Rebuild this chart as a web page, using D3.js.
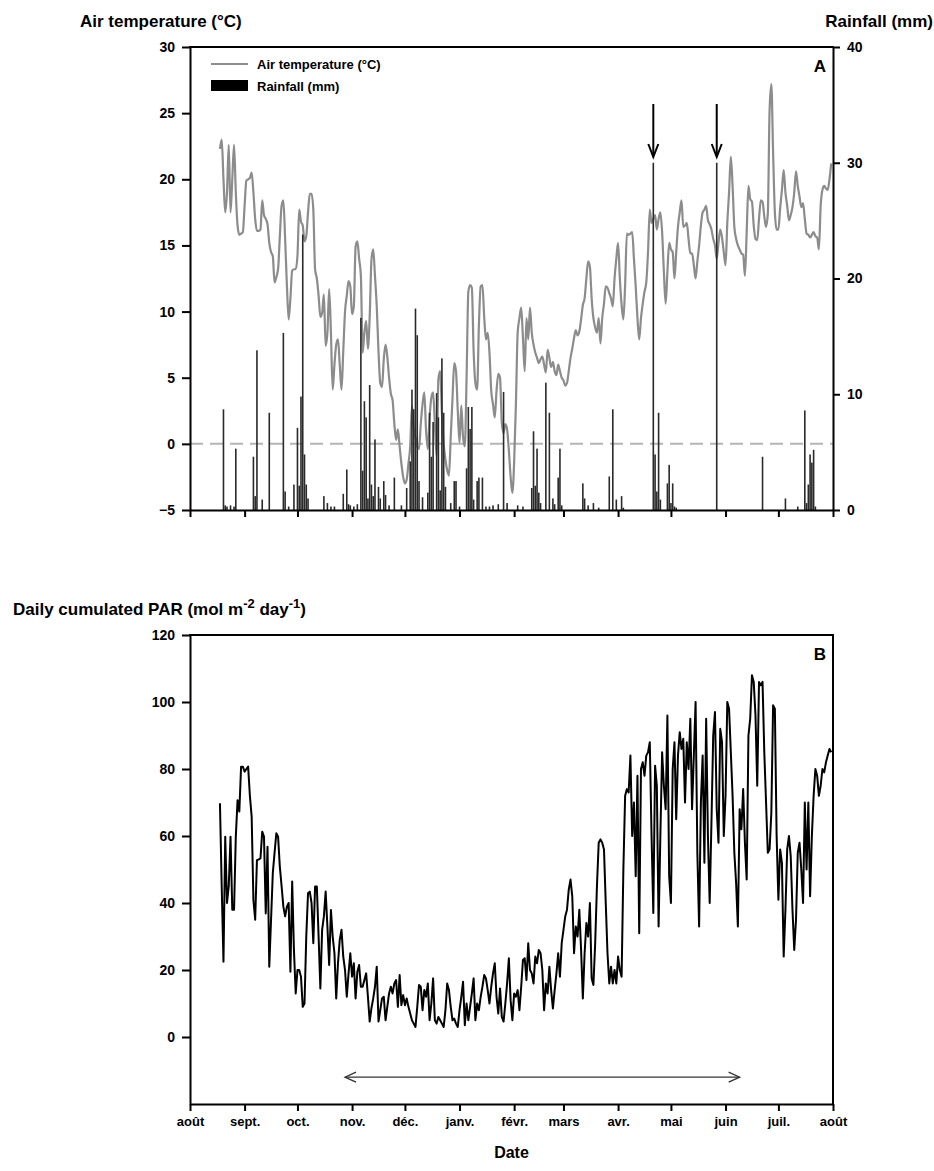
<!DOCTYPE html>
<html>
<head>
<meta charset="utf-8">
<script src="https://cdn.jsdelivr.net/npm/d3@7"></script>
<style>
  body { margin: 0; background: #fff; }
  text { font-family: "Liberation Sans", Arial, sans-serif; font-weight: bold; fill: #000; }
</style>
</head>
<body>
<div id="chart"></div>
<script>
// daily series start on day 17 after 1 August (18 August)
var firstDay = 17;

// air temperature (°C), one value per day
var temperature = [
  22.3, 23.0, 20, 17.5, 19, 22.6, 17.5, 20, 22.6, 19,
  16.5, 15.8, 15.9, 16, 18, 19.9, 20, 20.1, 20.5, 19,
  17, 16.1, 16.1, 16.2, 18.4, 17.3, 17, 16.6, 15.2, 14.5,
  14.2, 12.2, 12.6, 13.2, 15.7, 18, 18.4, 15.5, 12, 9.4,
  11, 13.1, 13.2, 13.2, 14.2, 17.7, 16.8, 16.5, 15.3, 15.7,
  17.5, 18.9, 18.9, 17.7, 13.2, 12.5, 11.2, 9.6, 9.9, 11.3,
  7.4, 8.4, 11.7, 8.4, 4.1, 6, 7.5, 7.9, 6, 4.1,
  7, 10, 11.2, 12.3, 11.9, 9.8, 10.4, 14.9, 15.3, 14,
  12.7, 6.9, 8.4, 9.3, 7.2, 9.6, 13.9, 14.7, 12.7, 10.4,
  7, 4.6, 4.3, 6.4, 7.5, 6.6, 5, 3.8, 3.3, 1.5,
  0.3, 1.1, -0.2, -1.5, -2.5, -3, -2.7, -1.5, -0.2, 2.9,
  1.1, 0.5, -0.2, -0.4, 1.5, 3, 3.9, 1, -0.4, 2,
  3.5, 3.9, 1.5, -0.9, 4.9, 5.5, 2.3, 0, -1.2, -2,
  -2.4, 0.5, 3.4, 6.1, 5.5, 2.5, 0.1, 2.9, 0.5, -0.2,
  5, 11.5, 12, 11.8, 7, 4.6, 4.1, 9, 11.9, 12,
  9.6, 7.9, 8.4, 6.9, 4, 3, 2, 4, 5.3, 5,
  1.6, 0.8, 1.5, 1.1, -0.5, -2.5, -3.7, -1.4, 3, 8.4,
  9.5, 10.3, 8, 5.5, 9.5, 7.9, 10.3, 8.4, 7.5, 6.9,
  6.5, 6.1, 6.4, 6.6, 6, 5.4, 7.1, 6.5, 5.8, 6.2,
  5.5, 5.2, 6, 5.5, 5, 4.8, 4.4, 4.6, 5.5, 6.5,
  7.2, 8, 8.6, 8.2, 8.5, 9.4, 10.5, 11, 12.5, 13.8,
  13.4, 11, 9.5, 8.8, 8.4, 9.5, 7.6, 9.5, 10.6, 11.9,
  11.8, 11.4, 11, 10.4, 12.5, 14, 15.2, 12.5, 10.5, 9.4,
  12, 15.9, 15.8, 15.9, 16, 14, 11.9, 9.5, 7.9, 9.5,
  10.6, 11.5, 12.2, 14.5, 17.7, 16.7, 17, 17.3, 16.2, 17,
  17.5, 16, 13, 10.6, 13, 15.2, 14.7, 14.5, 12.5, 14.5,
  16.4, 17.5, 18.4, 16.4, 16.5, 16.7, 15.5, 14.4, 14.4, 13.5,
  12.5, 13.8, 15, 16.5, 17.5, 17.7, 18, 16.9, 16.6, 16.2,
  15.5, 15, 14, 15.2, 16.2, 15.6, 14.5, 13.5, 16.7, 19,
  21.7, 19.5, 16.4, 15.5, 15, 14.7, 14.4, 14.3, 12.7, 16,
  19.5, 18.5, 18.3, 16.5, 15.5, 15.4, 17, 18.4, 18.3, 17.2,
  16.4, 17.4, 25.2, 27.2, 22, 17.5, 16.2, 16.2, 17.8, 19.2,
  20.7, 19, 18, 16.9, 17.3, 17.9, 19, 20.6, 19.5, 18.7,
  17.9, 18.2, 17, 15.9, 15.8, 15.6, 15.8, 16, 15.7, 15.6,
  14.7, 18, 19.2, 19.5, 19.3, 19.2, 20, 21.2
];

// daily cumulated PAR (mol m-2 day-1), one value per day
var par = [
  69.8, 45, 22.5, 59.8, 40, 45, 59.8, 38, 38, 59.8,
  70.7, 67.3, 80.7, 80.7, 79.2, 80, 80.7, 72, 65.8, 40.9,
  35, 52.8, 53, 53.3, 61.3, 59.8, 36.9, 56.8, 21, 34.9,
  48.9, 55, 60.8, 59.8, 50.8, 45, 38.9, 36, 38.9, 40,
  19.5, 46.4, 26, 13, 20, 20, 18, 9, 10, 30,
  42.9, 43.4, 40, 28, 44.9, 44.9, 30, 14.5, 32, 36,
  43.4, 33, 21.5, 37.9, 30, 25, 11.5, 22, 29, 32,
  24, 20, 12, 19, 25, 18, 22, 11.5, 19.5, 21.5,
  15, 15, 17, 19, 12, 4.6, 8.6, 11.5, 15, 21,
  4.6, 8, 11.5, 12, 5, 9, 13, 15, 13, 16,
  17, 9, 18.5, 9.5, 12.5, 9.5, 11.5, 9, 7, 5,
  4, 3, 9, 15.5, 15, 8, 14, 12, 16, 5,
  10, 17.5, 5, 4, 6, 5, 4, 3, 8, 16,
  14, 9, 5, 5.5, 4, 3, 8, 12, 16.5, 3.5,
  10, 5, 9, 13, 17.5, 5, 10, 8, 12, 15,
  18.5, 17.5, 14, 10, 15, 19, 22, 12, 7, 14.5,
  6, 4.6, 10, 16, 23.5, 11, 5, 13, 12, 14,
  8, 15, 23, 23.5, 17, 28, 20, 19, 16, 24,
  22, 26, 25, 20, 8, 16, 13, 21, 14, 8.5,
  14, 19, 25, 18, 28, 32, 36, 38, 44, 47,
  42, 25, 33, 30, 38, 26, 11.5, 25, 34, 30,
  40, 17.5, 15.5, 28, 45, 58, 59, 58, 56, 40,
  25, 16, 21, 16, 20, 16, 24, 20, 18, 50,
  72, 74, 73, 84, 60, 70, 48, 78, 31, 80,
  82, 78, 84, 85, 88, 60, 37, 81, 75, 33,
  60, 85, 75, 68, 96, 48, 40, 80, 88, 65,
  84, 91, 86, 89, 70, 88, 80, 95, 68, 84,
  100, 55, 33, 70, 84, 52, 95, 60, 40, 64,
  90, 97, 68, 58, 92, 88, 60, 72, 100, 98,
  85, 72, 55, 46, 33, 68, 62, 74, 58, 47,
  90, 95, 108, 106, 96, 75, 106, 105, 106, 85,
  70, 55, 56, 67, 99, 98, 60, 41, 56, 52,
  24, 38, 56, 60, 54, 38, 26, 35, 55, 58,
  50, 40, 70, 50, 70, 42, 60, 72, 80, 78,
  72, 75, 80, 79, 82, 84, 86, 85
];

// rainy days (days after 1 August) and rainfall (mm)
var rainDay = [19, 20, 21, 23, 25, 26, 36, 37, 38, 41, 45, 53, 54, 56, 59, 61, 62, 63, 64, 65,
  66, 67, 76, 78, 80, 82, 87, 89, 90, 91, 93, 95, 97, 98, 99, 100, 101, 102, 103, 104,
  105, 107, 108, 110, 111, 113, 116, 120, 123, 125, 126, 127, 128, 129, 130, 132, 135, 136, 137, 138,
  140, 141, 142, 143, 144, 145, 148, 150, 151, 153, 157, 158, 159, 160, 161, 163, 164, 166, 168, 170,
  172, 175, 178, 180, 186, 189, 194, 195, 196, 197, 198, 199, 202, 204, 206, 207, 209, 210, 211, 223,
  224, 226, 229, 232, 238, 240, 242, 245, 246, 263, 264, 265, 266, 267, 271, 272, 273, 274, 275, 276,
  299, 325, 338, 345, 349, 350, 351, 352, 353, 354, 355];
var rainMm = [8.7, 0.4, 0.3, 0.4, 0.3, 5.3, 4.6, 1.2, 13.8, 0.9, 8.4, 15.3, 1.6, 0.3, 2.2, 7.1, 2.1, 9.8, 23.8, 4.8,
  2.2, 1.0, 1.2, 0.6, 0.3, 0.3, 1.4, 3.5, 0.5, 0.4, 0.3, 0.5, 16.6, 3.4, 9.4, 8.0, 1.0, 10.8, 2.2, 1.2,
  6.1, 2.0, 1.0, 2.5, 1.3, 0.4, 2.8, 0.4, 1.9, 4.2, 10.4, 8.7, 17.4, 15.1, 2.5, 1.1, 1.5, 8.4, 4.6, 7.6,
  10.1, 8.0, 1.7, 13.1, 8.4, 2.0, 0.6, 2.5, 2.5, 0.3, 3.6, 8.9, 7.0, 8.9, 0.9, 2.5, 2.8, 2.8, 0.3, 0.3,
  0.4, 0.5, 10.2, 0.6, 0.4, 0.3, 1.9, 6.8, 2.1, 5.3, 1.5, 0.6, 11.0, 8.4, 1.0, 0.5, 2.8, 5.3, 0.4, 2.3,
  1.0, 0.4, 0.6, 0.2, 2.9, 8.7, 0.9, 1.2, 0.2, 30.0, 4.8, 1.6, 8.4, 0.9, 2.3, 3.9, 0.6, 2.3, 0.3, 0.2,
  30.0, 4.6, 1.0, 0.3, 8.6, 0.6, 2.2, 4.8, 4.1, 5.2, 0.3];

// marked days (arrows in panel A) and the period shown in panel B
var arrowDays = [263, 299];
var periodDays = [88, 312];

var monthLabels = ["août", "sept.", "oct.", "nov.", "déc.", "janv.", "févr.", "mars", "avr.", "mai", "juin", "juil.", "août"];
var tempTicks = [-5, 0, 5, 10, 15, 20, 25, 30];
var rainTicks = [0, 10, 20, 30, 40];
var parTicks = [0, 20, 40, 60, 80, 100, 120];

var width = 934, height = 1171;
var left = 190, right = 833;

var svg = d3.select("#chart")
  .append("svg")
  .attr("width", width)
  .attr("height", height);

var start = new Date(2010, 7, 1);
var end = new Date(2011, 7, 1);
function dayDate(d) { return d3.timeDay.offset(start, d); }

var x = d3.scaleTime().domain([start, end]).range([left, right]);
var months = d3.timeMonth.range(start, d3.timeDay.offset(end, 1));

function styleAxis(g) {
  g.selectAll("path, line").attr("stroke", "#000").attr("stroke-width", 2);
  g.selectAll("text").attr("font-size", 14).attr("font-family", null);
}

// ---------- panel A ----------
var topA = 47, botA = 510;
var yT = d3.scaleLinear().domain([-5, 30]).range([botA, topA]);
var yR = d3.scaleLinear().domain([0, 40]).range([botA, topA]);

// zero line
svg.append("line")
  .attr("x1", left).attr("x2", right)
  .attr("y1", yT(0)).attr("y2", yT(0))
  .attr("stroke", "#b4b4b4").attr("stroke-width", 2)
  .attr("stroke-dasharray", "13,7");

// temperature line
var tempData = temperature.map(function(v, i) { return {date: dayDate(firstDay + i), value: v}; });
svg.append("path")
  .datum(tempData)
  .attr("fill", "none")
  .attr("stroke", "#8c8c8c")
  .attr("stroke-width", 2.2)
  .attr("d", d3.line()
    .curve(d3.curveMonotoneX)
    .x(function(d) { return x(d.date); })
    .y(function(d) { return yT(d.value); }));

// rainfall bars
var rainData = rainDay.map(function(d, i) { return {date: dayDate(d), value: rainMm[i]}; });
svg.append("g")
  .selectAll("rect")
  .data(rainData)
  .enter()
  .append("rect")
  .attr("x", function(d) { return x(d.date) - 0.8; })
  .attr("width", 1.6)
  .attr("y", function(d) { return yR(d.value); })
  .attr("height", function(d) { return yR(0) - yR(d.value); })
  .attr("fill", "#2a2a2a");

// arrows above the two marked days
arrowDays.forEach(function(d) {
  var ax = x(dayDate(d));
  svg.append("line")
    .attr("x1", ax).attr("x2", ax)
    .attr("y1", 104).attr("y2", 156)
    .attr("stroke", "#000").attr("stroke-width", 2);
  svg.append("path")
    .attr("d", "M" + (ax - 5) + ",144L" + ax + ",157L" + (ax + 5) + ",144")
    .attr("fill", "none").attr("stroke", "#000").attr("stroke-width", 2);
});

// axes
svg.append("g")
  .attr("transform", "translate(" + left + ",0)")
  .call(d3.axisLeft(yT).tickValues(tempTicks).tickSize(8).tickSizeOuter(0).tickPadding(7))
  .call(styleAxis);

svg.append("g")
  .attr("transform", "translate(" + right + ",0)")
  .call(d3.axisRight(yR).tickValues(rainTicks).tickSize(7).tickSizeOuter(0).tickPadding(7))
  .call(styleAxis);

svg.append("g")
  .attr("transform", "translate(0," + botA + ")")
  .call(d3.axisBottom(x).tickValues(months).tickSize(7).tickSizeOuter(0).tickFormat(""))
  .call(styleAxis);

svg.append("line")
  .attr("x1", left - 1).attr("x2", right + 1)
  .attr("y1", topA).attr("y2", topA)
  .attr("stroke", "#000").attr("stroke-width", 2);

// legend
svg.append("line")
  .attr("x1", 211).attr("x2", 248).attr("y1", 64).attr("y2", 64)
  .attr("stroke", "#8c8c8c").attr("stroke-width", 2);
svg.append("text").attr("x", 257).attr("y", 69).attr("font-size", 13).text("Air temperature (°C)");
svg.append("rect").attr("x", 211).attr("y", 80).attr("width", 37).attr("height", 11).attr("fill", "#000");
svg.append("text").attr("x", 257).attr("y", 91).attr("font-size", 13).text("Rainfall (mm)");

svg.append("text").attr("x", 820).attr("y", 72).attr("font-size", 17).attr("text-anchor", "middle").text("A");

// titles
svg.append("text").attr("x", 80).attr("y", 27).attr("font-size", 17).text("Air temperature (°C)");
svg.append("text").attr("x", 933).attr("y", 27).attr("font-size", 17).attr("text-anchor", "end").text("Rainfall (mm)");

// ---------- panel B ----------
var topB = 635, botB = 1104;
var yP = d3.scaleLinear().domain([-20, 120]).range([botB, topB]);

var parData = par.map(function(v, i) { return {date: dayDate(firstDay + i), value: v}; });
svg.append("path")
  .datum(parData)
  .attr("fill", "none")
  .attr("stroke", "#000")
  .attr("stroke-width", 2)
  .attr("stroke-linejoin", "round")
  .attr("d", d3.line()
    .x(function(d) { return x(d.date); })
    .y(function(d) { return yP(d.value); }));

// double-headed arrow for the period
var px1 = x(dayDate(periodDays[0])), px2 = x(dayDate(periodDays[1])), py = yP(-12);
svg.append("line")
  .attr("x1", px1).attr("x2", px2).attr("y1", py).attr("y2", py)
  .attr("stroke", "#333").attr("stroke-width", 1.3);
svg.append("path")
  .attr("d", "M" + (px1 + 11) + "," + (py - 5) + "L" + px1 + "," + py + "L" + (px1 + 11) + "," + (py + 5) +
             "M" + (px2 - 11) + "," + (py - 5) + "L" + px2 + "," + py + "L" + (px2 - 11) + "," + (py + 5))
  .attr("fill", "none").attr("stroke", "#333").attr("stroke-width", 1.3);

svg.append("g")
  .attr("transform", "translate(" + left + ",0)")
  .call(d3.axisLeft(yP).tickValues(parTicks).tickSize(8).tickSizeOuter(0).tickPadding(7))
  .call(styleAxis);

svg.append("g")
  .attr("transform", "translate(0," + botB + ")")
  .call(d3.axisBottom(x).tickValues(months).tickSize(7).tickSizeOuter(0).tickPadding(6)
    .tickFormat(function(d, i) { return monthLabels[i]; }))
  .call(styleAxis)
  .selectAll("text").attr("font-size", 13);

svg.append("line")
  .attr("x1", left - 1).attr("x2", right + 1)
  .attr("y1", topB).attr("y2", topB)
  .attr("stroke", "#000").attr("stroke-width", 2);
svg.append("line")
  .attr("x1", right).attr("x2", right)
  .attr("y1", topB).attr("y2", botB)
  .attr("stroke", "#000").attr("stroke-width", 2);

svg.append("text").attr("x", 820).attr("y", 660).attr("font-size", 17).attr("text-anchor", "middle").text("B");

// titles
var parTitle = svg.append("text").attr("x", 13).attr("y", 615).attr("font-size", 17);
parTitle.append("tspan").text("Daily cumulated PAR (mol m");
parTitle.append("tspan").attr("dy", -7).attr("font-size", 13).text("-2");
parTitle.append("tspan").attr("dy", 7).text(" day");
parTitle.append("tspan").attr("dy", -7).attr("font-size", 13).text("-1");
parTitle.append("tspan").attr("dy", 7).text(")");

svg.append("text").attr("x", (left + right) / 2).attr("y", 1158).attr("font-size", 16)
  .attr("text-anchor", "middle").text("Date");
</script>
</body>
</html>
